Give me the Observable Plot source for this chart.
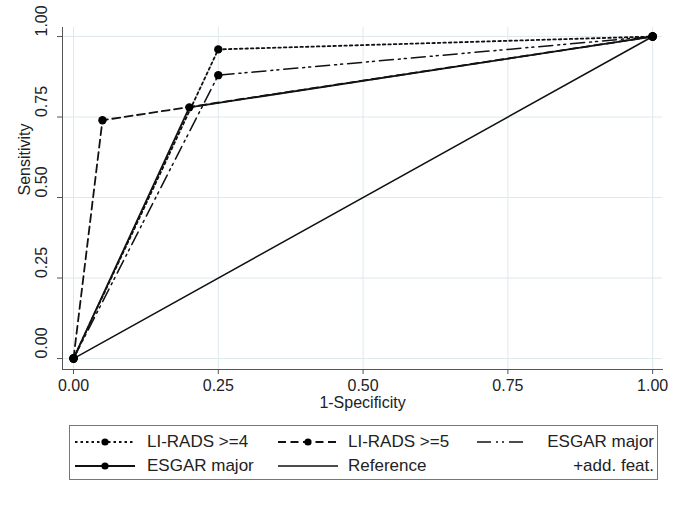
<!DOCTYPE html>
<html>
<head>
<meta charset="utf-8">
<script src="https://cdn.jsdelivr.net/npm/d3@7"></script>
<script src="https://cdn.jsdelivr.net/npm/@observablehq/plot@0.6"></script>
<style>
  body { margin: 0; background: #fff; font-family: "Liberation Sans", Arial, sans-serif; }
  #chart svg { display: block; }
  #legend { position: relative; margin-left: 69px; margin-top: 10px; width: 589px; height: 55px; border: 1px solid #777; box-sizing: border-box; font-size: 17px; color: #222; }
  .item { position: absolute; display: flex; align-items: center; height: 20px; }
  .item svg { display: block; }
  .lbl { white-space: nowrap; }
</style>
</head>
<body>
<div id="chart"></div>
<div id="legend"></div>
<script>
// ---- data ----
const seriesNames = ["LI-RADS >=4", "LI-RADS >=5", "ESGAR major +add. feat.", "ESGAR major", "Reference"];
const lirads4X = [0, 0.25, 1];
const lirads4Y = [0, 0.96, 1];
const lirads5X = [0, 0.05, 1];
const lirads5Y = [0, 0.74, 1];
const esgarAddX = [0, 0.25, 1];
const esgarAddY = [0, 0.88, 1];
const esgarX = [0, 0.2, 1];
const esgarY = [0, 0.78, 1];
const refX = [0, 1];
const refY = [0, 1];
const tickValues = [0, 0.25, 0.5, 0.75, 1];
const tickLabels = ["0.00", "0.25", "0.50", "0.75", "1.00"];

const xs = [lirads4X, lirads5X, esgarAddX, esgarX, refX];
const ys = [lirads4Y, lirads5Y, esgarAddY, esgarY, refY];
const dashes = ["2.5,3", "8,4.5", "14,5,2,4,2,5", null, null];
const widths = [1.8, 1.8, 1.5, 1.8, 1.5];
const hasMarker = [true, true, true, true, false];

const rows = [];
seriesNames.forEach((s, i) => xs[i].forEach((x, j) => rows.push({series: s, idx: i, x, y: ys[i][j]})));

const font = "'Liberation Sans', Arial, sans-serif";
const tickRows = tickValues.map((v, i) => ({v, label: tickLabels[i]}));

const lineMarks = seriesNames.map((s, i) =>
  Plot.line(rows.filter(d => d.idx === i), {x: "x", y: "y", stroke: "#111", strokeWidth: widths[i], strokeDasharray: dashes[i], strokeLinejoin: "round"})
);

const chart = Plot.plot({
  width: 689,
  height: 415,
  marginLeft: 62,
  marginRight: 27,
  marginTop: 27,
  marginBottom: 46,
  style: {fontFamily: font, fontSize: "16px", color: "#222", background: "#fff"},
  x: {domain: [-0.019, 1.017]},
  y: {domain: [-0.034, 1.028]},
  marks: [
    Plot.gridX(tickValues, {stroke: "#dde9ec", strokeOpacity: 1, strokeWidth: 1}),
    Plot.gridY(tickValues, {stroke: "#dde9ec", strokeOpacity: 1, strokeWidth: 1}),
    Plot.axisX(tickValues, {tickSize: 5, tickFormat: () => "", stroke: "#555", label: null}),
    Plot.axisY(tickValues, {tickSize: 5, tickFormat: () => "", stroke: "#555", label: null}),
    Plot.frame({anchor: "left", stroke: "#555"}),
    Plot.frame({anchor: "bottom", stroke: "#555"}),
    Plot.text(tickRows, {x: "v", text: "label", frameAnchor: "bottom", dy: 21, fontSize: 16, fill: "#222"}),
    Plot.text(tickRows, {y: "v", text: "label", frameAnchor: "left", dx: -20.5, rotate: -90, fontSize: 16, fill: "#222"}),
    Plot.text(["1-Specificity"], {frameAnchor: "bottom", dy: 38.5, fontSize: 16, fill: "#222"}),
    Plot.text(["Sensitivity"], {frameAnchor: "left", dx: -38, dy: -3, rotate: -90, fontSize: 16, fill: "#222"}),
    ...lineMarks,
    Plot.dot(rows.filter(d => hasMarker[d.idx]), {x: "x", y: "y", r: 4.2, fill: "#000", stroke: "none"})
  ]
});
document.getElementById("chart").appendChild(chart);

// ---- legend ----
const legend = document.getElementById("legend");
const legendPos = [
  {left: 5, top: 6, w: 60, gap: 12},
  {left: 208, top: 6, w: 60, gap: 10},
  {left: 407, top: 6, w: 51, gap: 0},
  {left: 5, top: 30, w: 60, gap: 12},
  {left: 208, top: 30, w: 60, gap: 10}
];
seriesNames.forEach((s, i) => {
  const p = legendPos[i];
  const item = document.createElement("div");
  item.className = "item";
  item.style.left = p.left + "px";
  item.style.top = p.top + "px";
  const w = p.w;
  const svg = d3.create("svg").attr("width", w).attr("height", 12);
  svg.append("line").attr("x1", 0).attr("x2", w).attr("y1", 6).attr("y2", 6)
    .attr("stroke", "#111").attr("stroke-width", widths[i]).attr("stroke-dasharray", dashes[i]);
  if (hasMarker[i] && i !== 2) svg.append("circle").attr("cx", w / 2).attr("cy", 6).attr("r", 3.6).attr("fill", "#000");
  item.appendChild(svg.node());
  if (i === 2) {
    const lbl = document.createElement("div");
    lbl.style.position = "absolute";
    lbl.style.right = "0px";
    lbl.style.top = "0px";
    lbl.style.textAlign = "right";
    lbl.style.lineHeight = "24px";
    lbl.style.marginTop = "-2px";
    lbl.style.whiteSpace = "nowrap";
    lbl.innerHTML = "ESGAR major<br>+add. feat.";
    item.style.width = (587 - 3 - p.left) + "px";
    item.appendChild(lbl);
  } else {
    const lbl = document.createElement("span");
    lbl.className = "lbl";
    lbl.style.marginLeft = p.gap + "px";
    lbl.textContent = s;
    item.appendChild(lbl);
  }
  legend.appendChild(item);
});
</script>
</body>
</html>
